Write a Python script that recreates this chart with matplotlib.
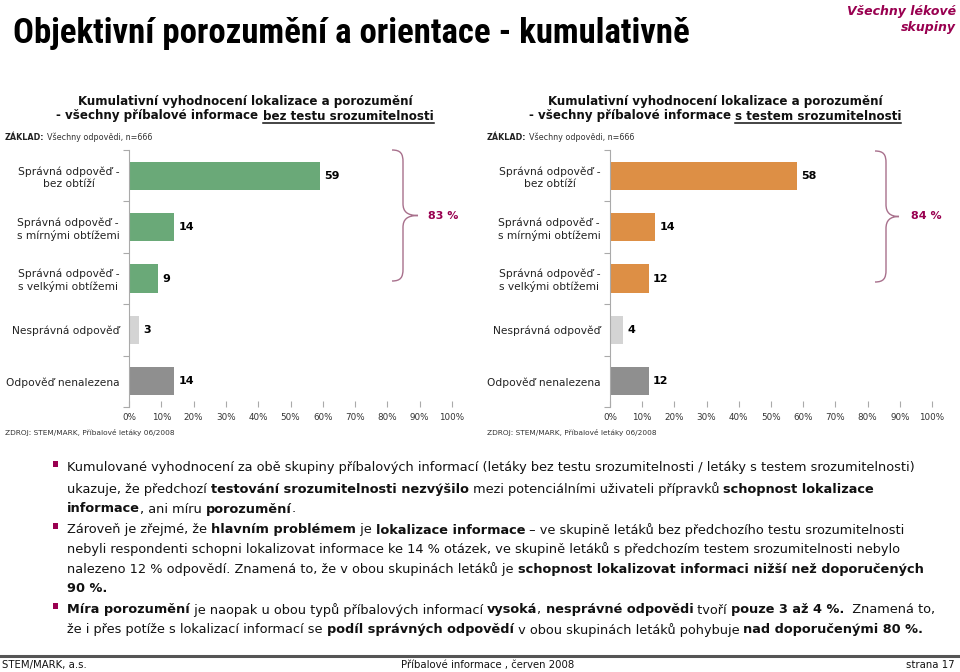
import matplotlib
matplotlib.use("Agg")
import matplotlib.pyplot as plt
from matplotlib import font_manager
from matplotlib.patches import Rectangle, PathPatch
from matplotlib.path import Path
from matplotlib.lines import Line2D

plt.rcParams['font.family'] = ['DejaVu Sans']

W, H = 960, 672

categories = ["Správná odpověď -\nbez obtíží",
              "Správná odpověď -\ns mírnými obtížemi",
              "Správná odpověď -\ns velkými obtížemi",
              "Nesprávná odpověď",
              "Odpověď nenalezena"]
left_values = [59, 14, 9, 3, 14]
right_values = [58, 14, 12, 4, 12]
brace_labels = ["83 %", "84 %"]
x_ticks = [0, 10, 20, 30, 40, 50, 60, 70, 80, 90, 100]
x_tick_labels = ["%d%%" % t for t in x_ticks]

GREEN = '#6aa978'
ORANGE = '#dd8f45'
LIGHT = '#d4d4d4'
DARK = '#8f8f8f'
MAGENTA = '#990050'
BRACE = '#a8708c'

bullets = [
    [
        [("Kumulované vyhodnocení za obě skupiny příbalových informací (letáky bez testu srozumitelnosti / letáky s testem srozumitelnosti)", False)],
        [("ukazuje, že předchozí ", False), ("testování srozumitelnosti nezvýšilo", True),
         (" mezi potenciálními uživateli přípravků ", False), ("schopnost lokalizace", True)],
        [("informace", True), (", ani míru ", False), ("porozumění", True), (".", False)],
    ],
    [
        [("Zároveň je zřejmé, že ", False), ("hlavním problémem", True), (" je ", False),
         ("lokalizace informace", True), (" – ve skupině letáků bez předchozího testu srozumitelnosti", False)],
        [("nebyli respondenti schopni lokalizovat informace ke 14 % otázek, ve skupině letáků s předchozím testem srozumitelnosti nebylo", False)],
        [("nalezeno 12 % odpovědí. Znamená to, že v obou skupinách letáků je ", False),
         ("schopnost lokalizovat informaci nižší než doporučených", True)],
        [("90 %.", True)],
    ],
    [
        [("Míra porozumění", True), (" je naopak u obou typů příbalových informací ", False), ("vysoká", True),
         (", ", False), ("nesprávné odpovědi", True), (" tvoří ", False), ("pouze 3 až 4 %.", True),
         ("  Znamená to,", False)],
        [("že i přes potíže s lokalizací informací se ", False), ("podíl správných odpovědí", True),
         (" v obou skupinách letáků pohybuje ", False), ("nad doporučenými 80 %.", True)],
    ],
]
bullet_lines_y = [[468, 489, 509], [530, 549, 569, 588], [610, 630]]

# a narrow face for the headline if one is installed
installed = {f.name for f in font_manager.fontManager.ttflist}
narrow = 'DejaVu Sans'
for cand in ('Liberation Sans Narrow', 'DejaVu Sans Condensed', 'Roboto Condensed', 'Open Sans Condensed'):
    if cand in installed:
        narrow = cand
        break

fig = plt.figure(figsize=(W / 100, H / 100), dpi=100)
fig.patch.set_facecolor('white')
renderer = fig.canvas.get_renderer()


def fx(x):
    return x / W


def fy(y):
    return 1 - y / H


def text_w(s, size, bold, family=None):
    kw = dict(fontsize=size, fontweight='bold' if bold else 'normal')
    if family:
        kw['family'] = family
    t1 = fig.text(0, 0, s + '|', **kw)
    t2 = fig.text(0, 0, '|', **kw)
    w = t1.get_window_extent(renderer).width - t2.get_window_extent(renderer).width
    t1.remove()
    t2.remove()
    return w


def rich_line(x, y, segs, size, color='#111111'):
    for s, b in segs:
        fig.text(fx(x), fy(y), s, fontsize=size, fontweight='bold' if b else 'normal',
                 ha='left', va='center', color=color)
        x += text_w(s, size, b)
    return x


# ---- title, fitted to the reference width
title = "Objektivní porozumění a orientace - kumulativně"
tsize = min(25, 22 * 776 / text_w(title, 22, True, narrow))
fig.text(fx(13), fy(33), title, fontsize=tsize, fontweight='bold', family=narrow,
         ha='left', va='center', color='black')
fig.text(fx(956), fy(12), "Všechny lékové", fontsize=9, fontweight='bold', fontstyle='italic',
         ha='right', va='center', color=MAGENTA)
fig.text(fx(956), fy(27), "skupiny", fontsize=9, fontweight='bold', fontstyle='italic',
         ha='right', va='center', color=MAGENTA)


def subtitle(cx, under):
    size = 8.6
    fig.text(fx(cx), fy(102), "Kumulativní vyhodnocení lokalizace a porozumění", fontsize=size,
             fontweight='bold', ha='center', va='center', color='#111111')
    pre = "- všechny příbalové informace "
    w1 = text_w(pre, size, True)
    w2 = text_w(under, size, True)
    x0 = cx - (w1 + w2) / 2
    fig.text(fx(x0), fy(116), pre, fontsize=size, fontweight='bold', ha='left', va='center', color='#111111')
    fig.text(fx(x0 + w1), fy(116), under, fontsize=size, fontweight='bold', ha='left', va='center',
             color='#111111')
    fig.add_artist(Line2D([fx(x0 + w1), fx(x0 + w1 + w2)], [fy(123), fy(123)],
                          transform=fig.transFigure, color='#111111', lw=1.1))


subtitle(245, "bez testu srozumitelnosti")
subtitle(715, "s testem srozumitelnosti")

for x in (5, 487):
    fig.text(fx(x), fy(137), "ZÁKLAD:", fontsize=5.8, fontweight='bold', ha='left', va='center', color='#222222')
    fig.text(fx(x + text_w("ZÁKLAD: ", 5.8, True)), fy(137), "Všechny odpovědi, n=666", fontsize=5.8,
             ha='left', va='center', color='#333333')
    fig.text(fx(x), fy(432), "ZDROJ: STEM/MARK, Příbalové letáky 06/2008", fontsize=5.3,
             ha='left', va='center', color='#333333')


def chart(left_px, right_px, values, main_color):
    ax = fig.add_axes([fx(left_px), fy(407), (right_px - left_px) / W, (407 - 150) / H])
    colors = [main_color] * 3 + [LIGHT, DARK]
    pos = list(range(len(values)))
    ax.barh(pos, values, height=0.55, color=colors)
    ax.set_xlim(0, 100)
    ax.set_ylim(len(values) - 0.5, -0.5)
    ax.set_yticks(pos)
    ax.set_yticklabels(categories, fontsize=7.7, color='#222222', multialignment='center')
    ax.set_yticks([p - 0.5 for p in range(len(values) + 1)], minor=True)
    ax.tick_params(axis='y', which='major', length=0, pad=7)
    ax.tick_params(axis='y', which='minor', length=4, color='#aaaaaa', width=0.8)
    ax.set_xticks(x_ticks)
    ax.set_xticklabels(x_tick_labels, fontsize=6.3, color='#333333')
    ax.tick_params(axis='x', length=4, color='#aaaaaa', width=0.8, pad=4, direction='in')
    for s in ('top', 'right', 'bottom'):
        ax.spines[s].set_visible(False)
    ax.spines['left'].set_color('#aaaaaa')
    ax.spines['left'].set_linewidth(0.8)
    for p, v in zip(pos, values):
        ax.annotate(str(v), (v, p), xytext=(3, 0), textcoords='offset points', ha='left', va='center',
                    fontsize=8, fontweight='bold', color='black')
    return ax


chart(129, 452, left_values, GREEN)
chart(610, 932, right_values, ORANGE)


def brace(xv, ytop, ybot, w_in, w_out):
    ym = (ytop + ybot) / 2
    pts = [
        (xv - w_in, ytop),
        (xv - 2, ytop), (xv, ytop + 4), (xv, ytop + 12),
        (xv, ym - 12),
        (xv, ym - 4), (xv + 4, ym), (xv + w_out, ym),
        (xv + 4, ym), (xv, ym + 4), (xv, ym + 12),
        (xv, ybot - 12),
        (xv, ybot - 4), (xv - 2, ybot), (xv - w_in, ybot),
    ]
    codes = [Path.MOVETO, Path.CURVE4, Path.CURVE4, Path.CURVE4, Path.LINETO,
             Path.CURVE4, Path.CURVE4, Path.CURVE4, Path.CURVE4, Path.CURVE4, Path.CURVE4,
             Path.LINETO, Path.CURVE4, Path.CURVE4, Path.CURVE4]
    path = Path([(fx(a), fy(b)) for a, b in pts], codes)
    fig.add_artist(PathPatch(path, transform=fig.transFigure, facecolor='none', edgecolor=BRACE, lw=1.0))


brace(403, 150, 281, 11, 15)
fig.text(fx(428), fy(216), brace_labels[0], fontsize=8, fontweight='bold', ha='left', va='center', color=MAGENTA)
brace(886, 151, 282, 11, 13)
fig.text(fx(911), fy(216), brace_labels[1], fontsize=8, fontweight='bold', ha='left', va='center', color=MAGENTA)

# ---- bullet text, first line fitted to the reference width
first = bullets[0][0][0][0]
bsize = 8.6 * 848 / text_w(first, 8.6, False)
for blines, ys in zip(bullets, bullet_lines_y):
    fig.add_artist(Rectangle((fx(53), fy(ys[0] - 1)), 5 / W, 6 / H, transform=fig.transFigure,
                             facecolor=MAGENTA, edgecolor='none'))
    for segs, y in zip(blines, ys):
        rich_line(67, y, segs, bsize)

# ---- footer
fig.add_artist(Line2D([0, 1], [fy(656), fy(656)], transform=fig.transFigure, color='#555555', lw=2.2))
fig.text(fx(2), fy(665), "STEM/MARK, a.s.", fontsize=7.3, ha='left', va='center', color='#111111')
fig.text(fx(488), fy(665), "Příbalové informace , červen 2008", fontsize=7.3, ha='center', va='center',
         color='#111111')
fig.text(fx(955), fy(665), "strana 17", fontsize=7.3, ha='right', va='center', color='#111111')

fig.savefig("out.png", dpi=100)
